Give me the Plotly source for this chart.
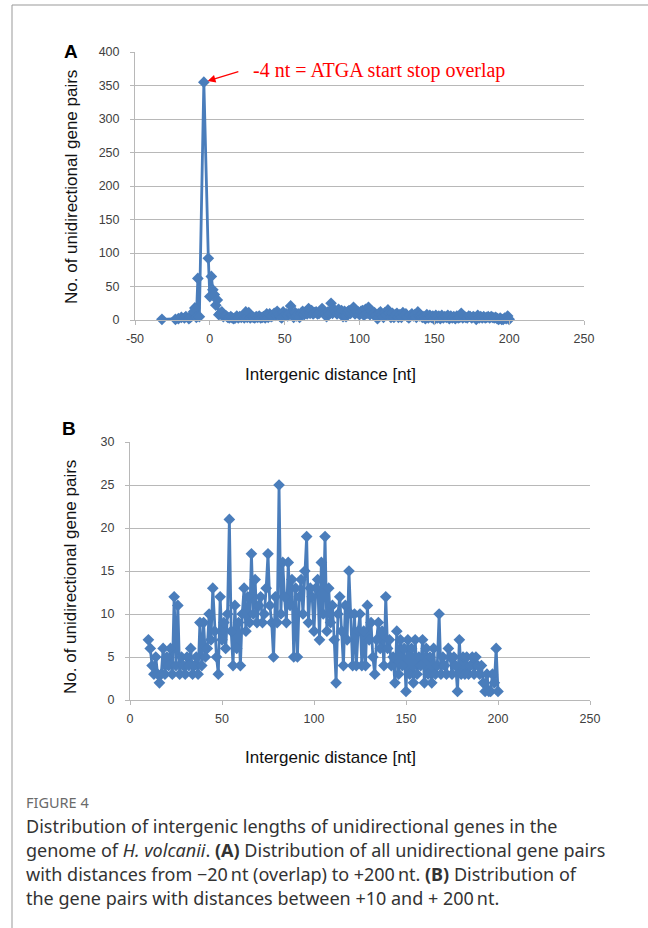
import plotly.graph_objects as go

# ---------------- data ----------------
# Panel B: intergenic distance +10 .. +200 nt
dist_B = list(range(10, 201))
count_B = [
    7, 6, 4, 3, 5, 3, 2, 3, 6, 3,        # 10-19
    5, 4, 6, 3, 12, 4, 11, 3, 5, 4,      # 20-29
    3, 5, 4, 6, 3, 4, 5, 3, 9, 4,        # 30-39
    9, 5, 6, 10, 7, 13, 8, 5, 3, 12,     # 40-49
    7, 9, 6, 10, 21, 8, 4, 11, 6, 9,     # 50-59
    4, 10, 13, 8, 12, 9, 17, 10, 14, 9,  # 60-69
    11, 12, 9, 10, 13, 17, 11, 9, 5, 12, # 70-79
    9, 25, 10, 16, 12, 9, 16, 11, 14, 5, # 80-89
    13, 5, 12, 14, 10, 15, 19, 9, 13, 12,# 90-99
    8, 13, 14, 7, 16, 10, 19, 8, 13, 9,  # 100-109
    11, 7, 2, 10, 12, 8, 4, 11, 7, 15,   # 110-119
    10, 4, 10, 4, 8, 10, 4, 8, 4, 11,    # 120-129
    7, 9, 5, 3, 7, 9, 6, 8, 4, 12,       # 130-139
    6, 7, 4, 5, 2, 8, 3, 7, 4, 6,        # 140-149
    1, 7, 3, 6, 2, 7, 3, 5, 4, 7,        # 150-159
    2, 6, 3, 5, 2, 6, 3, 4, 10, 3,       # 160-169
    5, 4, 3, 6, 5, 3, 5, 4, 1, 7,        # 170-179
    3, 5, 3, 5, 3, 4, 5, 3, 5, 4,        # 180-189
    3, 4, 2, 1, 3, 1, 1, 3, 2, 6,        # 190-199
    1,                                   # 200
]

# Panel A extra: overlaps and short distances (-32 .. +9 nt)
dist_A_short = [-32, -23, -21, -19, -17, -16, -14, -13, -12, -11, -10, -9, -8, -7,
                -4, -1, 0, 1, 2, 3, 4, 5, 6, 7, 8, 9]
count_A_short = [1, 1, 2, 4, 3, 5, 2, 4, 6, 12, 18, 4, 62, 5,
                 355, 92, 35, 65, 45, 38, 22, 30, 8, 10, 12, 5]

dist_A = dist_A_short + dist_B
count_A = count_A_short + count_B

x_ticks_A = [-50, 0, 50, 100, 150, 200, 250]
y_ticks_A = [0, 50, 100, 150, 200, 250, 300, 350, 400]
x_ticks_B = [0, 50, 100, 150, 200, 250]
y_ticks_B = [0, 5, 10, 15, 20, 25, 30]

# ---------------- style ----------------
W, H = 648, 928
BLUE = "#4a7dbb"
GRID = "#b8b8b8"
TICKFONT = dict(family="Liberation Sans, Arial, sans-serif", size=12.5, color="#404040")
TITLEFONT = dict(family="Liberation Sans, Arial, sans-serif", size=17, color="#111111")

def fx(px):
    return px / W

def fy(py):
    return 1 - py / H

fig = go.Figure()

marker = dict(symbol="diamond", size=9, color=BLUE, line=dict(width=0))
fig.add_trace(go.Scatter(x=dist_A, y=count_A, mode="lines+markers",
                         line=dict(color=BLUE, width=2.8), marker=marker,
                         xaxis="x", yaxis="y", showlegend=False, cliponaxis=False))
fig.add_trace(go.Scatter(x=dist_B, y=count_B, mode="lines+markers",
                         line=dict(color=BLUE, width=2.8), marker=marker,
                         xaxis="x2", yaxis="y2", showlegend=False, cliponaxis=False))

common_x = dict(showgrid=False, zeroline=False, showline=True, linecolor=GRID, linewidth=1,
                ticks="outside", ticklen=4, tickcolor=GRID, tickfont=TICKFONT, tickmode="array",
                automargin=False, ticklabelstandoff=3)
common_y = dict(showgrid=True, gridcolor=GRID, gridwidth=1, zeroline=False, showline=True,
                linecolor=GRID, linewidth=1, ticks="outside", ticklen=4, tickcolor=GRID,
                tickfont=TICKFONT, tickmode="array", automargin=False, ticklabelstandoff=8)

fig.update_layout(
    template="none",
    width=W, height=H, autosize=False,
    margin=dict(l=0, r=0, t=0, b=0, pad=0, autoexpand=False),
    paper_bgcolor="white", plot_bgcolor="white",
    xaxis=dict(common_x, domain=[fx(135), fx(584)], range=[-50, 250],
               tickvals=x_ticks_A, ticktext=[str(v) for v in x_ticks_A], anchor="y"),
    yaxis=dict(common_y, domain=[fy(320), fy(52)], range=[0, 400],
               tickvals=y_ticks_A, ticktext=[str(v) for v in y_ticks_A], anchor="x"),
    xaxis2=dict(common_x, domain=[fx(130), fx(590)], range=[0, 250],
                tickvals=x_ticks_B, ticktext=[str(v) for v in x_ticks_B], anchor="y2"),
    yaxis2=dict(common_y, domain=[fy(700), fy(442)], range=[0, 30],
                tickvals=y_ticks_B, ticktext=[str(v) for v in y_ticks_B], anchor="x2"),
)

ann = []
# axis titles
ann.append(dict(text="Intergenic distance [nt]", x=fx(330), y=fy(375), xref="paper", yref="paper",
                showarrow=False, font=TITLEFONT, xanchor="center", yanchor="middle"))
ann.append(dict(text="Intergenic distance [nt]", x=fx(330), y=fy(757), xref="paper", yref="paper",
                showarrow=False, font=TITLEFONT, xanchor="center", yanchor="middle"))
ann.append(dict(text="No. of unidirectional gene pairs", x=fx(72), y=fy(187), xref="paper", yref="paper",
                showarrow=False, font=TITLEFONT, textangle=-90,
                xanchor="center", yanchor="middle"))
ann.append(dict(text="No. of unidirectional gene pairs", x=fx(70), y=fy(577), xref="paper", yref="paper",
                showarrow=False, font=TITLEFONT, textangle=-90,
                xanchor="center", yanchor="middle"))
# panel letters
ann.append(dict(text="<b>A</b>", x=fx(71), y=fy(52), xref="paper", yref="paper", showarrow=False,
                font=dict(family="Liberation Sans, Arial, sans-serif", size=19, color="#000"),
                xanchor="center", yanchor="middle"))
ann.append(dict(text="<b>B</b>", x=fx(69), y=fy(428), xref="paper", yref="paper", showarrow=False,
                font=dict(family="Liberation Sans, Arial, sans-serif", size=19, color="#000"),
                xanchor="center", yanchor="middle"))
# red arrow pointing at the -4 nt peak, and its label
ann.append(dict(text="", x=-4, y=355, xref="x", yref="y", ax=36, ay=-11,
                showarrow=True, arrowhead=2, arrowsize=1.3, arrowwidth=1.2, arrowcolor="#ff0000",
                standoff=4))
ann.append(dict(text="-4 nt = ATGA start stop overlap", x=fx(251), y=fy(70), xref="paper", yref="paper",
                showarrow=False,
                font=dict(family="Liberation Serif, Times New Roman, serif", size=20, color="#ff0000"),
                xanchor="left", yanchor="middle"))
# caption
ann.append(dict(text="FIGURE 4", x=fx(24), y=fy(802), xref="paper", yref="paper", showarrow=False,
                font=dict(family="Noto Sans, Open Sans, sans-serif", size=14.5, color="#6a6a6a"),
                xanchor="left", yanchor="middle"))
cap_lines = [
    "Distribution of intergenic lengths of unidirectional genes in the",
    "genome of <i>H. volcanii</i>. <b>(A)</b> Distribution of all unidirectional gene pairs",
    "with distances from \u221220\u2009nt (overlap) to +200\u2009nt. <b>(B)</b> Distribution of",
    "the gene pairs with distances between +10 and + 200\u2009nt.",
]
for i, line in enumerate(cap_lines):
    ann.append(dict(text=line, x=fx(24), y=fy(826 + 24 * i), xref="paper", yref="paper",
                    showarrow=False, xanchor="left", yanchor="middle",
                    font=dict(family="Noto Sans, Open Sans, sans-serif", size=18, color="#333333")))

fig.update_layout(annotations=ann)

# page frame lines (left and top)
fig.add_shape(type="line", xref="paper", yref="paper", x0=fx(12), x1=fx(12), y0=0, y1=fy(5),
              line=dict(color="#999999", width=1))
fig.add_shape(type="line", xref="paper", yref="paper", x0=fx(12), x1=1, y0=fy(5), y1=fy(5),
              line=dict(color="#999999", width=1))

fig.write_html("out.html", config={"displayModeBar": False},
               post_script="document.body.style.margin='0px';")
